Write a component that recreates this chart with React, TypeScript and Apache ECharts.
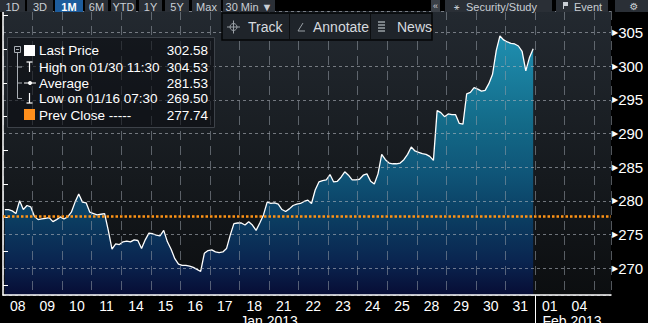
import React, { useEffect, useRef } from 'react';
import * as echarts from 'echarts';

// ---- data ----
const dayLabels = ['08', '09', '10', '11', '14', '15', '16', '17', '18', '21', '22', '23', '24', '25', '28', '29', '30', '31', '01', '04'];
const monthLabels = ['Jan 2013', 'Feb 2013'];
const monthPositions = [9, 19.25];

const d08 = [278.7, 278.7, 278.5, 278.1, 280.0, 278.7, 279.3, 279.1];
const d09 = [277.7, 277.2, 277.3, 277.4, 277.5, 276.9, 277.2, 277.6];
const d10 = [277.3, 277.6, 278.3, 279.8, 281.0, 279.8, 279.7, 278.3];
const d11 = [278.1, 277.9, 278.0, 278.1, 275.6, 272.8, 273.6, 273.5];
const d14 = [273.9, 274.0, 273.9, 274.2, 274.1, 272.9, 274.2, 275.2];
const d15 = [275.1, 274.9, 274.8, 275.6, 273.9, 272.8, 271.4, 270.6];
const d16 = [270.4, 270.4, 270.3, 270.1, 269.8, 269.5, 272.2, 272.6];
const d17 = [272.7, 272.4, 272.3, 272.4, 272.9, 274.9, 276.6, 276.7];
const d18 = [276.7, 276.4, 276.9, 276.4, 275.6, 276.7, 277.9, 279.8];
const d21 = [279.6, 279.7, 279.5, 278.7, 278.4, 278.8, 279.3, 279.5];
const d22 = [279.6, 279.9, 280.1, 279.6, 281.6, 282.8, 283.0, 283.1];
const d23 = [283.9, 282.8, 282.9, 283.5, 284.3, 283.8, 283.1, 283.1];
const d24 = [283.2, 283.8, 284.0, 282.9, 282.5, 284.0, 286.9, 286.1];
const d25 = [285.6, 285.5, 285.5, 285.6, 286.1, 286.9, 288.0, 287.4];
const d28 = [287.2, 287.0, 286.9, 286.6, 286.0, 293.4, 293.1, 292.5];
const d29 = [292.9, 292.8, 292.8, 291.5, 291.4, 295.9, 296.1, 296.8];
const d30 = [296.6, 296.3, 296.4, 297.4, 298.8, 302.3, 304.5, 303.9];
const d31 = [303.6, 303.4, 303.3, 303.0, 302.2, 299.3, 301.3, 302.58];
const dailyPrices = [d08, d09, d10, d11, d14, d15, d16, d17, d18, d21, d22, d23, d24, d25, d28, d29, d30, d31];

const prevClose = 277.74;
const lastPrice = 302.58;
const legendLabels = ['Last Price', 'High on 01/30 11:30', 'Average', 'Low on 01/16 07:30', 'Prev Close -----'];
const legendValues = ['302.58', '304.53', '281.53', '269.50', '277.74'];
const rangeButtons = ['1D', '3D', '1M', '6M', 'YTD', '1Y', '5Y', 'Max', '30 Min ▼'];
const toolItems = ['Track', 'Annotate', 'News'];
const rightButtons = ['Security/Study', 'Event'];

const X_MAX = 20.57;
const Y_MIN = 266;
const Y_MAX = 308.2;

const FONT = "'Liberation Sans', Arial, sans-serif";

export default function App() {
  const ref = useRef<HTMLDivElement>(null);

  useEffect(() => {
    document.body.style.margin = '0';
    document.body.style.background = '#000';
    if (!ref.current) return;
    const chart = echarts.init(ref.current, null, { renderer: 'svg' });

    const seriesData: number[][] = [];
    dailyPrices.forEach((day, d) => {
      day.forEach((v, i) => seriesData.push([d + (i + 0.5) / day.length, v]));
    });

    const btnX = [[0, 25], [27, 53], [55, 83], [85, 108], [111, 136], [139, 162], [165, 189], [192, 221], [223, 275]];
    const graphics: any[] = [];
    // top toolbar
    rangeButtons.forEach((b, i) => {
      const [x0, x1] = btnX[i];
      const active = b === '1M';
      graphics.push({ type: 'rect', z: 100, shape: { x: x0, y: 0, width: x1 - x0, height: 12 }, style: { fill: active ? '#1d5c9c' : '#2a2f36' } });
      graphics.push({ type: 'text', z: 101, x: (x0 + x1) / 2, y: 6.5, style: { text: b, fill: active ? '#ffffff' : '#c9ced4', font: `${active ? 'bold ' : ''}11px ${FONT}`, align: 'center', verticalAlign: 'middle' } });
    });
    graphics.push({ type: 'rect', z: 100, shape: { x: 431, y: 0, width: 9, height: 12 }, style: { fill: '#3a3f46' } });
    graphics.push({ type: 'text', z: 101, x: 435.5, y: 6, style: { text: '«', fill: '#c9ced4', font: `9px ${FONT}`, align: 'center', verticalAlign: 'middle' } });
    graphics.push({ type: 'rect', z: 100, shape: { x: 445, y: 0, width: 107, height: 12 }, style: { fill: '#2a2f36' } });
    graphics.push({ type: 'text', z: 101, x: 456, y: 6.5, style: { text: '⚹', fill: '#c9ced4', font: `9px DejaVu Sans`, align: 'center', verticalAlign: 'middle' } });
    graphics.push({ type: 'text', z: 101, x: 466, y: 6.5, style: { text: rightButtons[0], fill: '#c9ced4', font: `11px ${FONT}`, align: 'left', verticalAlign: 'middle' } });
    graphics.push({ type: 'rect', z: 100, shape: { x: 556, y: 0, width: 52, height: 12 }, style: { fill: '#2a2f36' } });
    graphics.push({ type: 'rect', z: 101, shape: { x: 563, y: 2, width: 5, height: 4 }, style: { fill: '#c9ced4' } });
    graphics.push({ type: 'line', z: 101, shape: { x1: 563.5, y1: 2, x2: 563.5, y2: 9 }, style: { stroke: '#c9ced4', lineWidth: 1 } });
    graphics.push({ type: 'text', z: 101, x: 574, y: 6.5, style: { text: rightButtons[1], fill: '#c9ced4', font: `11px ${FONT}`, align: 'left', verticalAlign: 'middle' } });
    graphics.push({ type: 'rect', z: 100, shape: { x: 615, y: 0, width: 33, height: 12 }, style: { fill: '#2a2f36' } });
    graphics.push({ type: 'text', z: 101, x: 634, y: 6, style: { text: '⚙', fill: '#c9ced4', font: `10px DejaVu Sans`, align: 'center', verticalAlign: 'middle' } });

    // floating toolbar
    graphics.push({ type: 'rect', z: 100, shape: { x: 222, y: 13, width: 210, height: 27 }, style: { fill: '#1f242a', stroke: '#050607', lineWidth: 1.5 } });
    graphics.push({ type: 'line', z: 101, shape: { x1: 289.5, y1: 14, x2: 289.5, y2: 39 }, style: { stroke: '#0c0e10', lineWidth: 1 } });
    graphics.push({ type: 'line', z: 101, shape: { x1: 370.5, y1: 14, x2: 370.5, y2: 39 }, style: { stroke: '#0c0e10', lineWidth: 1 } });
    // crosshair icon
    graphics.push({ type: 'circle', z: 101, shape: { cx: 233.5, cy: 27, r: 3.5 }, style: { fill: 'none', stroke: '#9aa0a6', lineWidth: 1 } });
    graphics.push({ type: 'line', z: 101, shape: { x1: 227, y1: 27, x2: 240, y2: 27 }, style: { stroke: '#9aa0a6', lineWidth: 1 } });
    graphics.push({ type: 'line', z: 101, shape: { x1: 233.5, y1: 20.5, x2: 233.5, y2: 33.5 }, style: { stroke: '#9aa0a6', lineWidth: 1 } });
    // annotate icon
    graphics.push({ type: 'polyline', z: 101, shape: { points: [[303, 23], [298, 31], [305, 31]] }, style: { fill: 'none', stroke: '#9aa0a6', lineWidth: 1 } });
    // news icon
    [22, 25, 28, 31].forEach((yy) => graphics.push({ type: 'line', z: 101, shape: { x1: 378, y1: yy, x2: 385, y2: yy }, style: { stroke: '#9aa0a6', lineWidth: 1.5 } }));
    const toolX = [248, 313, 397];
    toolItems.forEach((t, i) => graphics.push({ type: 'text', z: 101, x: toolX[i], y: 27, style: { text: t, fill: '#d6dadf', font: `14px ${FONT}`, align: 'left', verticalAlign: 'middle' } }));

    // legend box
    graphics.push({ type: 'rect', z: 100, shape: { x: 7.5, y: 37.5, width: 207, height: 90 }, style: { fill: 'rgba(12,14,18,0.6)', stroke: '#3d4249', lineWidth: 1 } });
    const rowY = [50.5, 67, 83, 98.5, 115];
    legendLabels.forEach((t, i) => {
      graphics.push({ type: 'text', z: 101, x: 39, y: rowY[i], style: { text: t, fill: '#ffffff', font: `13.5px ${FONT}`, align: 'left', verticalAlign: 'middle' } });
      graphics.push({ type: 'text', z: 101, x: 208, y: rowY[i], style: { text: legendValues[i], fill: '#ffffff', font: `13.5px ${FONT}`, align: 'right', verticalAlign: 'middle' } });
    });
    // tree
    graphics.push({ type: 'rect', z: 101, shape: { x: 14.5, y: 46.5, width: 6, height: 6 }, style: { fill: 'none', stroke: '#a9aeb4', lineWidth: 1 } });
    graphics.push({ type: 'line', z: 101, shape: { x1: 16, y1: 49.5, x2: 19, y2: 49.5 }, style: { stroke: '#a9aeb4', lineWidth: 1 } });
    graphics.push({ type: 'line', z: 101, shape: { x1: 17.5, y1: 53, x2: 17.5, y2: 98.5 }, style: { stroke: '#a9aeb4', lineWidth: 1 } });
    [67, 83, 98.5].forEach((yy) => graphics.push({ type: 'line', z: 101, shape: { x1: 17.5, y1: yy, x2: 22, y2: yy }, style: { stroke: '#a9aeb4', lineWidth: 1 } }));
    graphics.push({ type: 'rect', z: 101, shape: { x: 24, y: 45, width: 11, height: 11 }, style: { fill: '#ffffff' } });
    // high icon
    graphics.push({ type: 'line', z: 101, shape: { x1: 26.5, y1: 62, x2: 32.5, y2: 62 }, style: { stroke: '#ffffff', lineWidth: 1.2 } });
    graphics.push({ type: 'line', z: 101, shape: { x1: 29.5, y1: 62, x2: 29.5, y2: 72 }, style: { stroke: '#ffffff', lineWidth: 1.2 } });
    // average icon
    graphics.push({ type: 'line', z: 101, shape: { x1: 24, y1: 83, x2: 36, y2: 83 }, style: { stroke: '#ffffff', lineWidth: 1 } });
    graphics.push({ type: 'circle', z: 101, shape: { cx: 30, cy: 83, r: 2 }, style: { fill: '#ffffff' } });
    // low icon
    graphics.push({ type: 'line', z: 101, shape: { x1: 29.5, y1: 93, x2: 29.5, y2: 103 }, style: { stroke: '#ffffff', lineWidth: 1.2 } });
    graphics.push({ type: 'line', z: 101, shape: { x1: 26.5, y1: 103, x2: 32.5, y2: 103 }, style: { stroke: '#ffffff', lineWidth: 1.2 } });
    graphics.push({ type: 'rect', z: 101, shape: { x: 24, y: 109, width: 11, height: 11 }, style: { fill: '#ff8f1c' } });

    // month separator
    graphics.push({ type: 'line', z: 50, shape: { x1: 535.5, y1: 295, x2: 535.5, y2: 323 }, style: { stroke: '#ffffff', lineWidth: 1 } });

    const option: any = {
      animation: false,
      backgroundColor: '#000000',
      grid: {
        left: 3, right: 37, top: 11, bottom: 28, show: true, borderWidth: 0,
        outerBoundsMode: 'none', containLabel: false,
        backgroundColor: new echarts.graphic.LinearGradient(0, 0, 0, 1, [
          { offset: 0, color: '#232930' },
          { offset: 0.6, color: '#15191d' },
          { offset: 1, color: '#0c0e10' },
        ]),
      },
      xAxis: [
        {
          type: 'value', min: 0, max: X_MAX, interval: 1, position: 'bottom', z: 3,
          axisLine: { show: true, onZero: false, lineStyle: { color: '#ffffff', width: 1.5 } },
          axisTick: { show: false },
          axisLabel: { show: false },
          splitLine: { show: true, lineStyle: { color: 'rgba(150,156,165,0.55)', type: [9, 6], width: 1 } },
        },
        {
          type: 'value', min: 0, max: X_MAX, interval: 0.5, position: 'bottom',
          axisLine: { show: false, onZero: false }, axisTick: { show: false }, splitLine: { show: false },
          axisLabel: {
            show: true, margin: 4, color: '#ffffff', fontFamily: FONT, fontSize: 14, showMaxLabel: false,
            formatter: (v: number) => {
              const k = Math.round(v - 0.5);
              return Math.abs(v - 0.5 - k) < 1e-6 && dayLabels[k] ? dayLabels[k] : '';
            },
          },
        },
        {
          type: 'value', min: 0, max: X_MAX, interval: 0.25, position: 'bottom',
          axisLine: { show: false, onZero: false }, axisTick: { show: false }, splitLine: { show: false },
          axisLabel: {
            show: true, margin: 19, color: '#ffffff', fontFamily: FONT, fontSize: 14, showMaxLabel: false,
            formatter: (v: number) => {
              const idx = monthPositions.findIndex((p) => Math.abs(p - v) < 1e-6);
              return idx >= 0 ? monthLabels[idx] : '';
            },
          },
        },
      ],
      yAxis: {
        type: 'value', position: 'right', min: Y_MIN, max: Y_MAX, minInterval: 5, maxInterval: 5, splitNumber: 8, z: 3,
        axisLine: { show: true, lineStyle: { color: '#ffffff', width: 1.5 } },
        axisTick: { show: false },
        minorTick: { show: true, splitNumber: 2, length: 5, lineStyle: { color: '#ffffff', width: 1 } },
        splitLine: { show: true, lineStyle: { color: 'rgba(175,180,188,0.6)', type: [3, 3], width: 1 } },
        axisLabel: {
          show: true, margin: 1, showMinLabel: false, showMaxLabel: false,
          formatter: (v: number) => `{t|▶}{v|${v}}`,
          rich: {
            t: { color: '#ffffff', fontSize: 8, fontFamily: 'DejaVu Sans' },
            v: { color: '#ffffff', fontSize: 15, fontFamily: FONT },
          },
        },
      },
      graphic: graphics,
      series: [
        {
          type: 'line', xAxisIndex: 0, yAxisIndex: 0, data: seriesData, showSymbol: false, z: 2,
          lineStyle: { color: '#ffffff', width: 1.3 },
          areaStyle: {
            origin: 'start', opacity: 1,
            color: new echarts.graphic.LinearGradient(0, 0, 0, 1, [
              { offset: 0, color: '#1f8fb0' },
              { offset: 0.34, color: '#136a88' },
              { offset: 0.53, color: '#0f5578' },
              { offset: 0.7, color: '#0b3e62' },
              { offset: 0.87, color: '#0a2550' },
              { offset: 1, color: '#070d35' },
            ]),
          },
          markLine: {
            silent: true, symbol: 'none', animation: false,
            data: [
              { yAxis: prevClose, lineStyle: { color: '#ff9416', type: [2.5, 2], width: 2.5 }, label: { show: false } },
              {
                yAxis: lastPrice, lineStyle: { opacity: 0 },
                label: {
                  show: true, position: 'end', distance: 2, formatter: String(lastPrice),
                  backgroundColor: '#ffffff', color: '#000000', padding: [1, 2, 0, 5],
                  fontFamily: FONT, fontSize: 14,
                },
              },
            ],
          },
        },
      ],
    };
    chart.setOption(option);
    return () => chart.dispose();
  }, []);

  return <div ref={ref} style={{ width: 648, height: 323, background: '#000' }} />;
}
